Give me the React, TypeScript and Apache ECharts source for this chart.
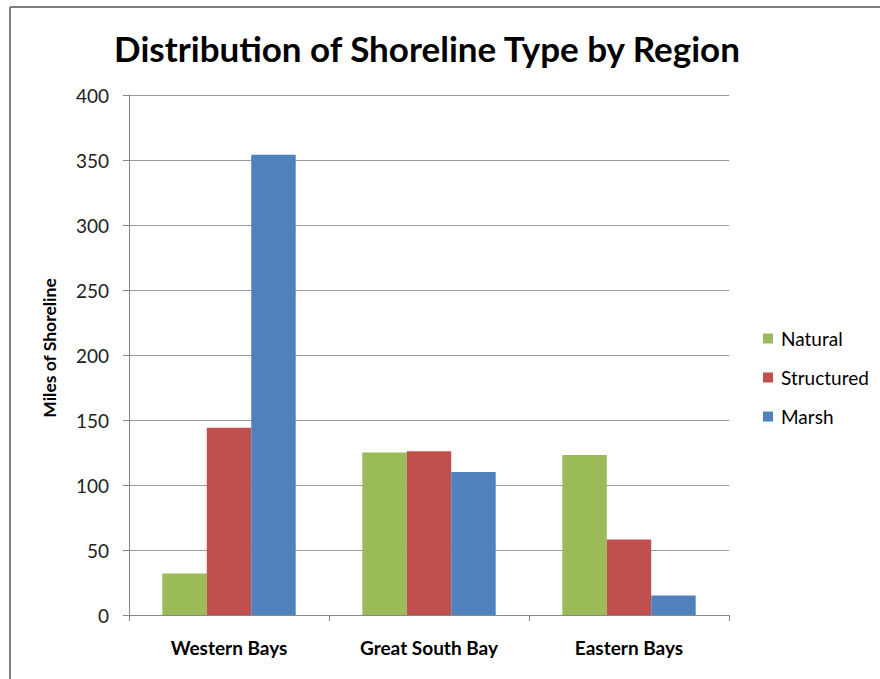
import React, { useEffect, useRef } from "react";
import * as echarts from "echarts";

const categories = ["Western Bays", "Great South Bay", "Eastern Bays"];
const natural = [32, 125, 123];
const structured = [144, 126, 58];
const marsh = [354, 110, 15];
const seriesNames = ["Natural", "Structured", "Marsh"];
const colors = ["#9BBB59", "#C0504D", "#4F81BD"];

const FONT = "Lato, 'Open Sans', sans-serif";

export default function App() {
  const ref = useRef<HTMLDivElement>(null);
  useEffect(() => {
    document.body.style.margin = "0";
    const chart = echarts.init(ref.current!, null, { renderer: "svg" });
    const values = [natural, structured, marsh];
    chart.setOption({
      animation: false,
      backgroundColor: "#ffffff",
      title: {
        text: "Distribution of Shoreline Type by Region",
        left: 422,
        top: 25,
        textAlign: "center",
        textStyle: { fontFamily: FONT, fontSize: 35, fontWeight: "bold", color: "#000" },
      },
      legend: {
        orient: "vertical",
        left: 758,
        top: 324,
        itemWidth: 10,
        itemHeight: 10,
        itemGap: 20,
        icon: "rect",
        textStyle: { fontFamily: FONT, fontSize: 19, color: "#000", padding: [0, 0, 0, 3] },
        data: seriesNames,
      },
      grid: { left: 129, right: 151, top: 95, bottom: 64, containLabel: false },
      xAxis: {
        type: "category",
        data: categories,
        axisLine: { show: true, lineStyle: { color: "#888", width: 1 } },
        axisTick: { show: true, length: 6, lineStyle: { color: "#888" } },
        axisLabel: { fontFamily: FONT, fontSize: 19, fontWeight: "bold", color: "#000", margin: 23 },
      },
      yAxis: {
        type: "value",
        min: 0,
        max: 400,
        interval: 50,
        name: "Miles of Shoreline",
        nameLocation: "middle",
        nameGap: 71,
        nameTextStyle: { fontFamily: FONT, fontSize: 17.5, fontWeight: "bold", color: "#000", padding: [0, 0, 0, 14] },
        axisLine: { show: true, lineStyle: { color: "#888", width: 1 } },
        axisTick: { show: true, length: 6, lineStyle: { color: "#888" } },
        axisLabel: { fontFamily: FONT, fontSize: 19, color: "#222", margin: 20 },
        splitLine: { show: true, lineStyle: { color: "#999", width: 1 } },
      },
      series: seriesNames.map((name, i) => ({
        name,
        type: "bar",
        data: values[i],
        barGap: "0%",
        barCategoryGap: "33.3%",
        itemStyle: { color: colors[i] },
      })),
      graphic: [
        { type: "line", shape: { x1: 10, y1: 7, x2: 10, y2: 679 }, style: { stroke: "#7f7f7f", lineWidth: 2 } },
        { type: "line", shape: { x1: 10, y1: 7, x2: 880, y2: 7 }, style: { stroke: "#7f7f7f", lineWidth: 2 } },
      ],
    });
    return () => chart.dispose();
  }, []);
  return <div ref={ref} style={{ width: 880, height: 679 }} />;
}
